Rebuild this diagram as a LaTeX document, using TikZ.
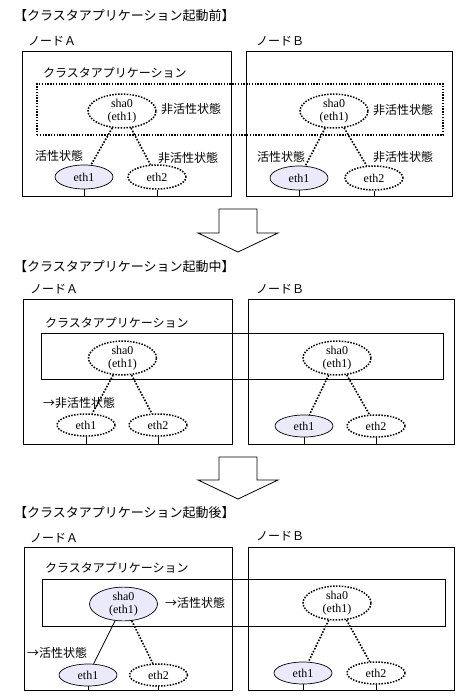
\documentclass[tikz,border=0pt]{standalone}
\usepackage{fontspec}
\setmainfont{Liberation Serif}
\newfontfamily\jp{Noto Sans CJK JP}
\usetikzlibrary{shapes.geometric}
\definecolor{actfill}{RGB}{234,234,250}
\begin{document}
\begin{tikzpicture}[x=1pt,y=-1pt,
  jt/.style={font=\jp\fontsize{12}{14}\selectfont, inner sep=0pt, anchor=west},
  tt/.style={font=\jp\fontsize{13}{14}\selectfont, inner sep=0pt, anchor=west},
  nodebox/.style={draw, line width=0.8pt, inner sep=0pt},
  clusoff/.style={draw, line width=1.4pt, dash pattern=on 1.4pt off 1.4pt, inner sep=0pt},
  cluson/.style={draw, line width=0.8pt, inner sep=0pt},
  ifoff/.style={ellipse, draw, line width=1.5pt, dash pattern=on 1.5pt off 1.4pt, inner sep=0pt, font=\fontsize{12}{13}\selectfont, align=center},
  ifon/.style={ellipse, draw, line width=0.7pt, fill=actfill, inner sep=0pt, font=\fontsize{12}{13}\selectfont, align=center},
  shasize/.style={minimum width=68pt, minimum height=32pt},
  ethsize/.style={minimum width=58pt, minimum height=22pt},
  offlink/.style={line width=1.6pt, dash pattern=on 1.6pt off 1.5pt},
  onlink/.style={line width=0.7pt},
  stub/.style={line width=0.7pt},
  bigarrow/.style={draw, line width=0.8pt, fill=white}
]
\useasboundingbox (0,0) rectangle (467,699);

% ---------- Section 1 ----------
\node[tt] (t1) at (14,16) {【クラスタアプリケーション起動前】};
\node[jt] (la1) at (28,41) {ノードＡ};
\node[jt] (lb1) at (256,41) {ノードＢ};
\node[nodebox, minimum width=209pt, minimum height=145pt] (A1) at (126.5,123.5) {};
\node[nodebox, minimum width=206pt, minimum height=145pt] (B1) at (349,123.5) {};
\node[jt] (cl1) at (43,73) {クラスタアプリケーション};
\node[clusoff, minimum width=406pt, minimum height=51pt] (C1) at (240,109.5) {};

\node[ifoff, shasize] (sa1) at (122,111) {sha0\\(eth1)};
\node[jt] (sa1l) at (161,109) {非活性状態};
\node[ifon, ethsize, minimum height=24pt] (ea1) at (84,177) {eth1};
\node[ifoff, ethsize, minimum height=24pt] (fa1) at (157,177) {eth2};
\node[jt] (ea1l) at (35,156) {活性状態};
\node[jt] (fa1l) at (158,158) {非活性状態};
\draw[offlink] (sa1) -- (ea1);
\draw[offlink] (sa1) -- (fa1);
\draw[stub] (ea1.south) -- (ea1.south |- A1.south);
\draw[stub] (fa1.south) -- (fa1.south |- A1.south);

\node[ifoff, shasize] (sb1) at (334,111) {sha0\\(eth1)};
\node[jt] (sb1l) at (373,110) {非活性状態};
\node[ifon, ethsize, minimum height=24pt] (eb1) at (299,178) {eth1};
\node[ifoff, ethsize, minimum height=24pt] (fb1) at (374,178) {eth2};
\node[jt] (eb1l) at (257,157) {活性状態};
\node[jt] (fb1l) at (373,157) {非活性状態};
\draw[offlink] (sb1) -- (eb1);
\draw[offlink] (sb1) -- (fb1);
\draw[stub] (eb1.south) -- (eb1.south |- B1.south);
\draw[stub] (fb1.south) -- (fb1.south |- B1.south);

% ---------- Arrow 1 ----------
\draw[bigarrow] (219,209) -- (257,209) -- (257,233) -- (278,233) -- (238,252) -- (198,233) -- (219,233) -- cycle;

% ---------- Section 2 ----------
\node[tt] (t2) at (14,267) {【クラスタアプリケーション起動中】};
\node[jt] (la2) at (30,289) {ノードＡ};
\node[jt] (lb2) at (256,289) {ノードＢ};
\node[nodebox, minimum width=209pt, minimum height=145pt] (A2) at (127.5,371.5) {};
\node[nodebox, minimum width=206pt, minimum height=145pt] (B2) at (351,371.5) {};
\node[jt] (cl2) at (45,323) {クラスタアプリケーション};
\node[cluson, minimum width=402pt, minimum height=46pt] (C2) at (242,356) {};

\node[ifoff, shasize] (sa2) at (122.5,358) {sha0\\(eth1)};
\node[ifoff, ethsize] (ea2) at (86,425) {eth1};
\node[ifoff, ethsize] (fa2) at (158,425) {eth2};
\node[jt] (ea2l) at (43,403) {→非活性状態};
\draw[offlink] (sa2) -- (ea2);
\draw[offlink] (sa2) -- (fa2);
\draw[stub] (ea2.south) -- (ea2.south |- A2.south);
\draw[stub] (fa2.south) -- (fa2.south |- A2.south);

\node[ifoff, shasize] (sb2) at (337,358) {sha0\\(eth1)};
\node[ifon, ethsize] (eb2) at (304,426) {eth1};
\node[ifoff, ethsize] (fb2) at (376,426) {eth2};
\draw[offlink] (sb2) -- (eb2);
\draw[offlink] (sb2) -- (fb2);
\draw[stub] (eb2.south) -- (eb2.south |- B2.south);
\draw[stub] (fb2.south) -- (fb2.south |- B2.south);

% ---------- Arrow 2 ----------
\draw[bigarrow] (219,457) -- (257,457) -- (257,480) -- (278,480) -- (238,499) -- (198,480) -- (219,480) -- cycle;

% ---------- Section 3 ----------
\node[tt] (t3) at (14,513) {【クラスタアプリケーション起動後】};
\node[jt] (la3) at (30,538) {ノードＡ};
\node[jt] (lb3) at (256,536) {ノードＢ};
\node[nodebox, minimum width=208pt, minimum height=143pt] (A3) at (128,618.5) {};
\node[nodebox, minimum width=206pt, minimum height=143pt] (B3) at (351,618.5) {};
\node[jt] (cl3) at (45,568) {クラスタアプリケーション};
\node[cluson, minimum width=403pt, minimum height=47pt] (C3) at (243.5,602.5) {};

\node[ifon, shasize] (sa3) at (123.5,604) {sha0\\(eth1)};
\node[jt] (sa3l) at (165,603) {→活性状態};
\node[ifon, ethsize] (ea3) at (88,675) {eth1};
\node[ifoff, ethsize] (fa3) at (158.5,675) {eth2};
\node[jt] (ea3l) at (27,653) {→活性状態};
\draw[onlink] (sa3) -- (ea3);
\draw[offlink] (sa3) -- (fa3);
\draw[stub] (ea3.south) -- (ea3.south |- A3.south);
\draw[stub] (fa3.south) -- (fa3.south |- A3.south);

\node[ifoff, shasize] (sb3) at (337,603) {sha0\\(eth1)};
\node[ifon, ethsize] (eb3) at (303,673) {eth1};
\node[ifoff, ethsize] (fb3) at (376,673) {eth2};
\draw[offlink] (sb3) -- (eb3);
\draw[offlink] (sb3) -- (fb3);
\draw[stub] (eb3.south) -- (eb3.south |- B3.south);
\draw[stub] (fb3.south) -- (fb3.south |- B3.south);
\end{tikzpicture}
\end{document}
